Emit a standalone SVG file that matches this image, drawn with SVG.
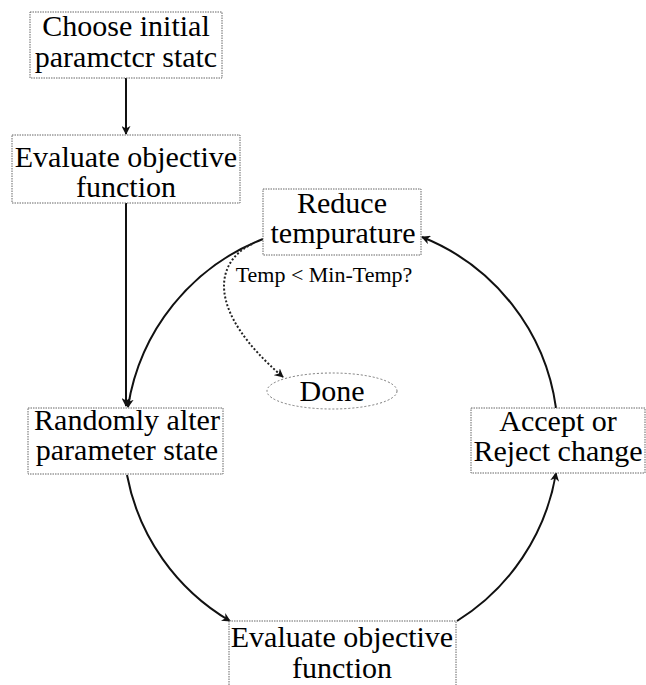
<svg xmlns="http://www.w3.org/2000/svg" width="646" height="685" viewBox="0 0 646 685">
<style>
.box{fill:#fff;stroke:#666;stroke-width:1;stroke-dasharray:1.5,1}
text{font-family:'Liberation Serif','DejaVu Serif',serif;fill:#000;text-anchor:middle}
.t{font-size:30px}
.s{font-size:22px}
.c{fill:none;stroke:#111;stroke-width:2}
.d{fill:none;stroke:#222;stroke-width:2;stroke-dasharray:2,2}
</style>
<defs>
<marker id="ahs" viewBox="0 0 10 10" refX="9" refY="5" markerWidth="9" markerHeight="9" orient="auto" markerUnits="userSpaceOnUse">
<path d="M0,0 L10,5 L0,10 L3,5 Z" fill="#111"/>
</marker>
</defs>
<g id="connectors">
<line class="c" x1="126" y1="78" x2="126" y2="134" marker-end="url(#ahs)"/>
<line class="c" x1="126" y1="203" x2="126" y2="406" marker-end="url(#ahs)"/>
<path class="c" d="M263,239 A216,216 0 0 0 128,407" marker-end="url(#ahs)"/>
<path class="c" d="M127,475 A216,216 0 0 0 230,621" marker-end="url(#ahs)"/>
<path class="c" d="M457,621 A216,216 0 0 0 556,473" marker-end="url(#ahs)"/>
<path class="c" d="M556,408 A216,216 0 0 0 422,237" marker-end="url(#ahs)"/>
<path class="d" d="M252,244 C215,262 205,310 283,377" marker-end="url(#ahs)"/>
</g>
<g id="choose">
<rect class="box" x="30" y="12" width="192" height="66"/>
<text class="t" x="126" y="36" font-family="Liberation Serif">Choose initial</text>
<text class="t" x="126" y="67" font-family="Liberation Serif">paramctcr statc</text>
</g>
<g id="evaluate1">
<rect class="box" x="12" y="135" width="228" height="68"/>
<text class="t" x="126" y="167" font-family="Liberation Serif">Evaluate objective</text>
<text class="t" x="126" y="197" font-family="Liberation Serif">function</text>
</g>
<g id="reduce">
<rect class="box" x="263" y="189" width="158" height="66"/>
<text class="t" x="342" y="213" font-family="Liberation Serif">Reduce</text>
<text class="t" x="343" y="243" font-family="Liberation Serif">tempurature</text>
</g>
<g id="label">
<text class="s" x="324" y="282" font-family="Liberation Serif">Temp &lt; Min-Temp?</text>
</g>
<g id="done">
<ellipse cx="332" cy="391" rx="65" ry="18" fill="#fff" stroke="#777" stroke-width="1" stroke-dasharray="2,2"/>
<text class="t" x="332" y="401" font-family="Liberation Serif">Done</text>
</g>
<g id="randomly">
<rect class="box" x="28" y="408" width="195" height="66"/>
<text class="t" x="127" y="430" font-family="Liberation Serif">Randomly alter</text>
<text class="t" x="127" y="460" font-family="Liberation Serif">parameter state</text>
</g>
<g id="accept">
<rect class="box" x="471" y="408" width="174" height="65"/>
<text class="t" x="558" y="431" font-family="Liberation Serif">Accept or</text>
<text class="t" x="558" y="461" font-family="Liberation Serif">Reject change</text>
</g>
<g id="evaluate2">
<rect class="box" x="229" y="621" width="227" height="80"/>
<text class="t" x="342" y="647" font-family="Liberation Serif">Evaluate objective</text>
<text class="t" x="342" y="678" font-family="Liberation Serif">function</text>
</g>
</svg>
